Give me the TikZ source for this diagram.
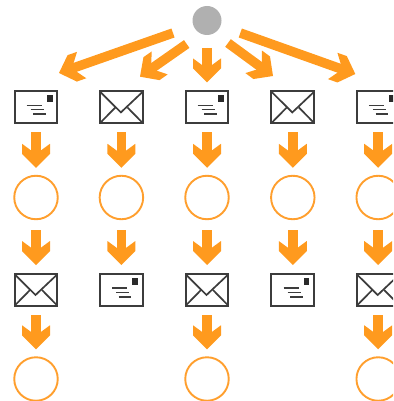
\documentclass[tikz,border=0pt]{standalone}
\usetikzlibrary{arrows.meta}
\definecolor{flowcol}{HTML}{FF9A1E}
\definecolor{ringcol}{HTML}{FF9F2E}
\definecolor{inkcol}{HTML}{3C3C3C}
\definecolor{hubcol}{HTML}{B0B0B0}
\pgfdeclarearrow{
  name=ChevTip,
  setup code={
    \pgfarrowssettipend{0pt}
    \pgfarrowssetbackend{-24pt}
    \pgfarrowssetlineend{-16pt}
    \pgfarrowssetvisualbackend{-16pt}
    \pgfarrowshullpoint{0pt}{0pt}
    \pgfarrowshullpoint{-24pt}{14pt}
    \pgfarrowshullpoint{-24pt}{-14pt}
  },
  drawing code={
    \pgfpathmoveto{\pgfqpoint{0pt}{0pt}}
    \pgfpathlineto{\pgfqpoint{-14pt}{14pt}}
    \pgfpathlineto{\pgfqpoint{-24pt}{14pt}}
    \pgfpathlineto{\pgfqpoint{-17pt}{4.5pt}}
    \pgfpathlineto{\pgfqpoint{-17pt}{-4.5pt}}
    \pgfpathlineto{\pgfqpoint{-24pt}{-14pt}}
    \pgfpathlineto{\pgfqpoint{-14pt}{-14pt}}
    \pgfpathclose
    \pgfusepathqfill
  },
}
\tikzset{
  flow/.style={draw=flowcol,fill=flowcol,color=flowcol,line width=9.5pt,-{ChevTip}},
  ring/.style={circle,draw=ringcol,line width=1.9pt,minimum size=43.5pt,inner sep=0pt,outer sep=0pt},
  hub/.style={circle,fill=hubcol,minimum size=29pt,inner sep=0pt,outer sep=0pt},
  mailbase/.style={rectangle,draw=inkcol,line width=1.9pt,fill=white,minimum width=42.8pt,minimum height=32pt,inner sep=0pt,outer sep=0pt},
  frontmail/.style={mailbase,path picture={
    \begin{scope}[shift={(path picture bounding box.center)}]
      \fill[inkcol!70!black] (11,-12) rectangle (16.5,-5.5);
      \draw[inkcol,line width=1.6pt] (-9.3,-2) -- (5.7,-2) (-5.3,2.3) -- (8,2.3) (-2.7,6.7) -- (10,6.7);
    \end{scope}}},
  flapmail/.style={mailbase,path picture={
    \begin{scope}[shift={(path picture bounding box.center)}]
      \draw[inkcol,line width=1.7pt] (-21.7,-16) -- (-0.5,5) -- (21.7,-16);
      \draw[inkcol,line width=1.7pt] (-21.7,16) -- (-6,0) (21.7,16) -- (6,0);
    \end{scope}}},
}
\begin{document}
\begin{tikzpicture}[x=1pt,y=-1pt]
\useasboundingbox (0,0) rectangle (393,401);
\clip (0,0) rectangle (393,401);
\node[hub] (hub) at (207,20.5) {};
% top row of mail
\node[frontmail] (m1) at (36,107.4) {};
\node[flapmail]  (m2) at (121.4,107.4) {};
\node[frontmail] (m3) at (207,107.4) {};
\node[flapmail]  (m4) at (292.8,107.4) {};
\node[frontmail] (m5) at (378.2,107.4) {};
% first row of rings
\node[ring] (r1) at (36,197.5) {};
\node[ring] (r2) at (121.4,197.5) {};
\node[ring] (r3) at (207,197.5) {};
\node[ring] (r4) at (292.8,197.5) {};
\node[ring] (r5) at (378.2,197.5) {};
% second row of mail
\node[flapmail]  (n1) at (36,290) {};
\node[frontmail] (n2) at (121.4,290) {};
\node[flapmail]  (n3) at (207,290) {};
\node[frontmail] (n4) at (292.8,290) {};
\node[flapmail]  (n5) at (378.2,290) {};
% last row of rings
\node[ring] (s1) at (36,379) {};
\node[ring] (s3) at (207,379) {};
\node[ring] (s5) at (378.2,379) {};
% fan-out
\coordinate (ta) at (173,33);
\coordinate (ha) at (59,73);
\coordinate (tb) at (186.7,44);
\coordinate (hb) at (140,76.7);
\coordinate (td) at (228,43);
\coordinate (hd) at (273,76);
\coordinate (te) at (240.3,33);
\coordinate (he) at (355.3,74);
\draw[flow] (ta) -- (ha);
\draw[flow] (tb) -- (hb);
\draw[flow,shorten <=13pt,shorten >=9pt] (hub.south) -- (m3.north);
\draw[flow] (td) -- (hd);
\draw[flow] (te) -- (he);
% columns
\foreach \c in {1,...,5}{
  \draw[flow,shorten <=9pt,shorten >=8pt] (m\c.south) -- (r\c.north);
  \draw[flow,shorten <=11pt,shorten >=9pt] (r\c.south) -- (n\c.north);
}
\foreach \c in {1,3,5}{
  \draw[flow,shorten <=9pt,shorten >=8pt] (n\c.south) -- (s\c.north);
}
\end{tikzpicture}
\end{document}
